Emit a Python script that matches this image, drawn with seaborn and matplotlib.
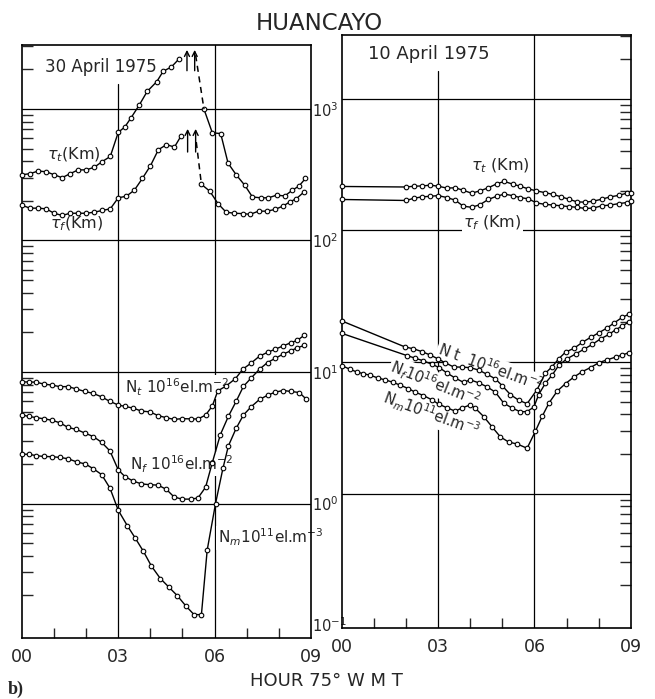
import matplotlib
matplotlib.use("Agg")
import matplotlib.pyplot as plt
import seaborn as sns
from matplotlib.ticker import LogLocator, NullFormatter, FixedLocator

# ---- 30 April 1975 (left panel) ----
l_tt_t1 = [0, 0.25, 0.5, 0.75, 1.0, 1.25, 1.5, 1.75, 2.0, 2.25, 2.5, 2.75, 3.0,
           3.2, 3.4, 3.65, 3.9, 4.2, 4.4, 4.65, 4.9]
l_tt_v1 = [316, 322, 337, 333, 316, 300, 322, 344, 344, 360, 398, 435, 665,
           727, 858, 1067, 1358, 1614, 1936, 2080, 2410]
l_tt_t2 = [5.67, 5.93, 6.19, 6.42, 6.68, 6.94, 7.18, 7.44, 7.68, 7.93, 8.19, 8.42, 8.63, 8.83]
l_tt_v2 = [995, 658, 650, 387, 314, 263, 214, 211, 211, 221, 218, 241, 259, 296]
l_tt_jump_t = [5.41, 5.67]
l_tt_jump_v = [2560, 995]
l_tt_arrow_t = [5.14, 5.38]
l_tt_arrow_v = [1860, 2950]   # tail, head

l_tf_t1 = [0, 0.25, 0.5, 0.75, 1.0, 1.25, 1.5, 1.75, 2.0, 2.25, 2.5, 2.75, 3.0,
           3.25, 3.5, 3.75, 4.0, 4.25, 4.5, 4.75, 4.95]
l_tf_v1 = [185, 176, 176, 174, 161, 155, 161, 161, 161, 164, 169, 174, 211,
           217, 241, 296, 369, 490, 535, 513, 620]
l_tf_t2 = [5.59, 5.85, 6.11, 6.36, 6.62, 6.87, 7.11, 7.37, 7.62, 7.88, 8.14, 8.34, 8.55, 8.79]
l_tf_v2 = [267, 237, 190, 164, 161, 160, 158, 167, 167, 172, 183, 196, 208, 234]
l_tf_jump_t = [5.43, 5.59]
l_tf_jump_v = [560, 267]
l_tf_arrow_t = [5.16, 5.41]
l_tf_arrow_v = [448, 740]

l_nt_t = [0, 0.21, 0.45, 0.67, 0.93, 1.19, 1.43, 1.69, 1.95, 2.22, 2.48, 2.74, 3.0,
          3.21, 3.47, 3.72, 3.98, 4.24, 4.5, 4.74, 4.99, 5.25, 5.48, 5.72, 5.93,
          6.1, 6.36, 6.65, 6.88, 7.14, 7.4, 7.65, 7.89, 8.14, 8.38, 8.58, 8.79]
l_nt_v = [8.4, 8.4, 8.36, 8.1, 7.95, 7.73, 7.75, 7.43, 7.12, 6.87, 6.47, 5.97, 5.61,
          5.47, 5.31, 5.04, 4.98, 4.66, 4.49, 4.36, 4.42, 4.4, 4.39, 4.7, 5.52,
          7.18, 7.83, 8.9, 10.5, 11.7, 13.2, 14.1, 14.9, 15.8, 16.7, 17.4, 19.0]

l_nf_t = [0, 0.21, 0.45, 0.67, 0.93, 1.19, 1.43, 1.69, 1.95, 2.22, 2.48, 2.74, 3.0,
          3.21, 3.47, 3.72, 3.98, 4.24, 4.5, 4.74, 4.99, 5.25, 5.48, 5.72, 5.93,
          6.18, 6.43, 6.67, 6.9, 7.14, 7.4, 7.65, 7.89, 8.14, 8.38, 8.58, 8.79]
l_nf_v = [4.72, 4.59, 4.5, 4.41, 4.3, 4.1, 3.79, 3.66, 3.44, 3.23, 2.92, 2.51, 1.8,
          1.6, 1.48, 1.41, 1.39, 1.38, 1.28, 1.12, 1.08, 1.08, 1.1, 1.33, 2.05,
          3.34, 4.6, 5.97, 7.78, 9.0, 10.5, 11.8, 12.7, 13.7, 14.5, 15.3, 15.9]

l_nm_t = [0, 0.21, 0.45, 0.67, 0.93, 1.19, 1.43, 1.71, 1.97, 2.22, 2.48, 2.74, 3.0,
          3.28, 3.52, 3.78, 4.03, 4.31, 4.58, 4.84, 5.1, 5.36, 5.59, 5.77, 6.03,
          6.26, 6.43, 6.67, 6.9, 7.14, 7.4, 7.65, 7.89, 8.14, 8.38, 8.64, 8.86]
l_nm_v = [2.37, 2.37, 2.31, 2.28, 2.27, 2.24, 2.19, 2.07, 2.0, 1.84, 1.66, 1.31, 0.887,
          0.679, 0.55, 0.434, 0.335, 0.269, 0.231, 0.199, 0.167, 0.143, 0.143, 0.443, 1.0,
          1.85, 2.74, 3.72, 4.71, 5.44, 6.18, 6.65, 7.03, 7.23, 7.11, 6.98, 6.2]

# ---- 10 April 1975 (right panel) ----
r_tau_t = [0, 2.0, 2.25, 2.5, 2.75, 3.0, 3.27, 3.53, 3.78, 4.04, 4.3, 4.56, 4.82, 5.06,
           5.32, 5.55, 5.81, 6.06, 6.32, 6.58, 6.83, 7.07, 7.32, 7.58, 7.83, 8.1,
           8.36, 8.63, 8.87, 9.0]
r_tt_v = [216, 214, 217, 218, 221, 217, 210, 211, 202, 192, 200, 211, 226, 236,
          225, 217, 207, 200, 194, 188, 180, 173, 165, 164, 167, 173, 180, 185, 192, 194]
r_tf_v = [172, 169, 176, 180, 182, 184, 178, 170, 153, 150, 157, 172, 182, 189,
          184, 178, 174, 162, 158, 156, 154, 152, 150, 147, 148, 154, 156, 160, 163, 168]

r_nt_t = [0, 1.97, 2.23, 2.49, 2.75, 2.98, 3.22, 3.48, 3.74, 4.0, 4.26, 4.52, 4.78,
          4.99, 5.25, 5.51, 5.77, 6.08, 6.34, 6.55, 6.76, 6.97, 7.23, 7.49, 7.75,
          8.01, 8.27, 8.48, 8.74, 8.95]
r_nt_v = [20.5, 13.0, 12.6, 12.0, 11.3, 10.6, 9.86, 9.17, 9.14, 9.06, 8.68, 8.07, 7.45,
          6.62, 5.65, 5.12, 4.82, 6.16, 8.22, 9.21, 10.6, 11.9, 12.7, 14.1, 15.4,
          16.7, 18.2, 19.8, 21.9, 23.1]

r_nf_t = [0, 2.02, 2.28, 2.54, 2.8, 3.04, 3.27, 3.53, 3.79, 4.0, 4.26, 4.52, 4.78,
          5.04, 5.3, 5.56, 5.77, 5.98, 6.13, 6.34, 6.55, 6.76, 7.02, 7.28, 7.54,
          7.8, 8.06, 8.32, 8.53, 8.74, 8.95]
r_nf_v = [16.5, 11.2, 10.7, 10.2, 9.62, 9.05, 8.26, 7.55, 7.0, 7.31, 6.95, 6.48, 5.9,
          4.87, 4.47, 4.18, 4.2, 4.54, 5.64, 6.9, 7.95, 9.46, 10.6, 11.5, 12.5,
          13.6, 15.0, 16.2, 17.6, 18.8, 20.2]

r_nm_t = [0, 0.25, 0.46, 0.67, 0.88, 1.13, 1.34, 1.6, 1.81, 2.07, 2.28, 2.54, 2.8,
          3.01, 3.27, 3.53, 3.74, 4.0, 4.16, 4.42, 4.68, 4.94, 5.2, 5.46, 5.77,
          6.03, 6.24, 6.45, 6.71, 6.97, 7.23, 7.49, 7.75, 8.01, 8.27, 8.53, 8.74, 8.95]
r_nm_v = [9.37, 8.81, 8.4, 8.15, 7.93, 7.55, 7.32, 7.0, 6.67, 6.28, 5.9, 5.56, 5.16,
          4.79, 4.49, 4.23, 4.47, 4.72, 4.44, 3.84, 3.21, 2.69, 2.46, 2.38, 2.21,
          2.98, 3.86, 4.87, 6.01, 6.86, 7.69, 8.45, 9.08, 9.89, 10.4, 10.9, 11.3, 11.8]

hour_ticks = [0, 3, 6, 9]
hour_labels = ["00", "03", "06", "09"]
decades = [0.1, 1, 10, 100, 1000]
decade_labels = ["$10^{-1}$", "$10^{0}$", "$10^{1}$", "$10^{2}$", "$10^{3}$"]

sns.set_style("ticks")
plt.rcParams['font.family'] = ['DejaVu Sans']
plt.rcParams['mathtext.fontset'] = 'dejavusans'

fig = plt.figure(figsize=(6.55, 6.99), dpi=100)
ax_l = fig.add_axes([0.0336, 0.0873, 0.441, 0.848])
ax_r = fig.add_axes([0.522, 0.1016, 0.441, 0.848])

mk = dict(color='black', lw=1.0, marker='o', markersize=3.3, markerfacecolor='white',
          markeredgecolor='black', markeredgewidth=0.8, sort=False, estimator=None,
          clip_on=False, zorder=3)


def curve(ax, t, v):
    sns.lineplot(x=t, y=v, ax=ax, **mk)


for ax in (ax_l, ax_r):
    ax.set_facecolor('none')
    ax.set_yscale('log')
    ax.set_xlim(0, 9)
    ax.set_ylim(0.095, 3050)
    for s in ax.spines.values():
        s.set_linewidth(1.2)
        s.set_color('black')
    for d in decades[1:]:
        ax.axhline(d, color='black', lw=0.9, zorder=1)
    ax.axvline(6, color='black', lw=0.9, zorder=1)
    ax.set_xticks(hour_ticks)
    ax.set_xticklabels(hour_labels)
    ax.xaxis.set_minor_locator(FixedLocator([1, 2, 4, 5, 7, 8]))
    ax.tick_params(axis='x', which='major', length=0, pad=7, labelsize=12.5)
    ax.tick_params(axis='x', which='minor', direction='in', length=7, width=1, top=False)
    ax.yaxis.set_minor_locator(LogLocator(base=10, subs=range(2, 10), numticks=20))
    ax.yaxis.set_minor_formatter(NullFormatter())
    ax.set_yticks(decades)
    ax.set_xlabel('')
    ax.set_ylabel('')

ax_l.axvline(3, ymax=0.935, color='black', lw=0.9, zorder=1)
ax_r.axvline(3, ymax=0.94, color='black', lw=0.9, zorder=1)

# left panel y labels sit between the two panels
ax_l.set_yticklabels(decade_labels)
ax_l.tick_params(axis='y', which='major', length=0, left=False, right=True,
                 labelleft=False, labelright=True, labelsize=10.5, pad=1)
ax_l.tick_params(axis='y', which='minor', direction='in', length=8, width=1,
                 left=True, right=False)
ax_l.get_yticklabels()[0].set_va('bottom')
ax_r.set_yticklabels([])
ax_r.tick_params(axis='y', which='major', length=0, left=False, right=False,
                 labelleft=False)
ax_r.tick_params(axis='y', which='minor', direction='in', length=8, width=1,
                 left=False, right=True)

# left panel curves
curve(ax_l, l_tt_t1, l_tt_v1)
curve(ax_l, l_tt_t2, l_tt_v2)
curve(ax_l, l_tf_t1, l_tf_v1)
curve(ax_l, l_tf_t2, l_tf_v2)
ax_l.plot(l_tt_jump_t, l_tt_jump_v, color='black', lw=1.1, ls=(0, (4, 3)), zorder=3)
ax_l.plot(l_tf_jump_t, l_tf_jump_v, color='black', lw=1.1, ls=(0, (4, 3)), zorder=3)
for t in l_tt_arrow_t:
    ax_l.annotate('', xy=(t, l_tt_arrow_v[1]), xytext=(t, l_tt_arrow_v[0]),
                  arrowprops=dict(arrowstyle='->', color='black', lw=1.0, mutation_scale=9),
                  annotation_clip=False)
for t in l_tf_arrow_t:
    ax_l.annotate('', xy=(t, l_tf_arrow_v[1]), xytext=(t, l_tf_arrow_v[0]),
                  arrowprops=dict(arrowstyle='->', color='black', lw=1.0, mutation_scale=9),
                  annotation_clip=False)
curve(ax_l, l_nt_t, l_nt_v)
curve(ax_l, l_nf_t, l_nf_v)
curve(ax_l, l_nm_t, l_nm_v)

# right panel curves
curve(ax_r, r_tau_t, r_tt_v)
curve(ax_r, r_tau_t, r_tf_v)
curve(ax_r, r_nt_t, r_nt_v)
curve(ax_r, r_nf_t, r_nf_v)
curve(ax_r, r_nm_t, r_nm_v)

wb = dict(facecolor='white', edgecolor='none', pad=1.0)

ax_l.text(0.71, 2070, "30 April 1975", fontsize=12, ha='left', va='center', bbox=wb, zorder=2)
ax_l.text(0.77, 451, r"$\tau_t$(Km)", fontsize=11.5, ha='left', va='center', bbox=wb, zorder=2)
ax_l.text(0.86, 133, r"$\tau_f$(Km)", fontsize=11.5, ha='left', va='center', bbox=wb, zorder=2)
ax_l.text(3.2, 7.7, r"N$_t$ 10$^{16}$el.m$^{-2}$", fontsize=11, ha='left', va='center',
          bbox=wb, zorder=2)
ax_l.text(3.35, 2.0, r"N$_f$ 10$^{16}$el.m$^{-2}$", fontsize=11, ha='left', va='center',
          bbox=wb, zorder=2)
ax_l.text(6.1, 0.55, r"N$_m$10$^{11}$el.m$^{-3}$", fontsize=11, ha='left', va='center',
          bbox=wb, zorder=2)

ax_r.text(0.81, 2210, "10 April 1975", fontsize=13, ha='left', va='center', bbox=wb, zorder=2)
ax_r.text(4.03, 308, r"$\tau_t$ (Km)", fontsize=11.5, ha='left', va='center', bbox=wb, zorder=2)
ax_r.text(3.78, 114, r"$\tau_f$ (Km)", fontsize=11.5, ha='left', va='center', bbox=wb, zorder=2)
ax_r.text(4.63, 9.15, r"N t  10$^{16}$el.m$^{-2}$", fontsize=10.5, ha='center', va='center',
          rotation=-20, bbox=wb, zorder=2)
ax_r.text(2.9, 6.8, r"N$_f$10$^{16}$el.m$^{-2}$", fontsize=10.5, ha='center', va='center',
          rotation=-22, bbox=wb, zorder=2)
ax_r.text(2.78, 4.0, r"N$_m$10$^{11}$el.m$^{-3}$", fontsize=10.5, ha='center', va='center',
          rotation=-20, bbox=wb, zorder=2)

fig.text(319 / 655, 1 - 23 / 699, "HUANCAYO", fontsize=16.5, ha='center', va='center')
fig.text(326 / 655, 1 - 681 / 699, "HOUR 75° W M T", fontsize=13, ha='center', va='center')
fig.text(8 / 655, 1 - 689 / 699, "b)", fontsize=13, fontweight='bold',
         family='Liberation Serif', ha='left', va='center')

plt.savefig('out.png', dpi=100)
